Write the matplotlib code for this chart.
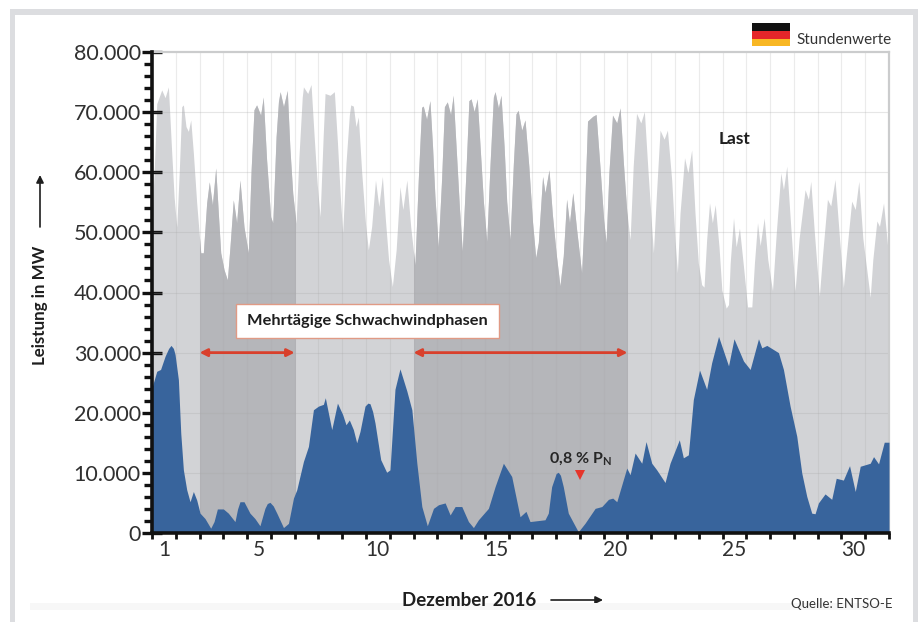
import matplotlib
matplotlib.use('Agg')
import matplotlib.pyplot as plt
from matplotlib.patches import Rectangle, FancyArrowPatch
from matplotlib.ticker import FixedLocator, FuncFormatter, NullFormatter

plt.rcParams['font.family'] = ['Lato', 'DejaVu Sans']
plt.rcParams['mathtext.default'] = 'regular'

# December 2016, x in days since start of the month, y in MW
load_days = [0, 0.1, 0.2, 0.41, 0.55, 0.69, 0.83, 0.93, 1.04, 1.15, 1.25, 1.32, 1.43, 1.53, 1.63, 1.74, 1.88,
             2.05, 2.16, 2.3, 2.41, 2.54, 2.68, 2.79, 2.89, 3.03, 3.17, 3.28, 3.42, 3.56, 3.7, 3.87,
             4.05, 4.17, 4.29, 4.4, 4.57, 4.68, 4.82, 4.99, 5.08, 5.22, 5.32, 5.39, 5.53, 5.69, 5.8, 5.92,
             6.06, 6.18, 6.32, 6.37, 6.55, 6.69, 6.82, 6.95, 7.07, 7.2, 7.28, 7.49, 7.67, 7.8, 7.92,
             8.02, 8.16, 8.3, 8.36, 8.47, 8.58, 8.68, 8.82, 8.98, 9.1, 9.24, 9.4, 9.54, 9.69, 9.82, 9.95,
             10.11, 10.27, 10.43, 10.55, 10.72, 10.88, 11.06, 11.2, 11.34, 11.41, 11.55, 11.69, 11.8, 11.9,
             12.04, 12.18, 12.3, 12.42, 12.56, 12.67, 12.79, 12.93, 13.05, 13.19, 13.33, 13.42, 13.55, 13.68, 13.8, 13.94,
             14.08, 14.22, 14.36, 14.43, 14.57, 14.68, 14.81, 14.92, 15.06, 15.2, 15.31, 15.4, 15.55, 15.69, 15.85, 16.0,
             16.14, 16.25, 16.43, 16.53, 16.7, 16.84, 17.0, 17.16, 17.3, 17.44, 17.56, 17.7, 17.86,
             18.07, 18.2, 18.32, 18.54, 18.68, 18.85, 19.0, 19.1, 19.22, 19.37, 19.55, 19.69, 19.82, 19.97,
             20.11, 20.24, 20.38, 20.56, 20.71, 20.85, 21.09, 21.22, 21.37, 21.54, 21.68, 21.86, 22.0,
             22.1, 22.21, 22.4, 22.54, 22.7, 22.84, 22.98, 23.12, 23.22, 23.33, 23.45, 23.57, 23.69, 23.85, 23.97,
             24.15, 24.25, 24.32, 24.46, 24.57, 24.71, 24.88, 25.05, 25.23, 25.34, 25.47, 25.58, 25.75, 25.9,
             26.1, 26.26, 26.45, 26.56, 26.7, 26.85, 27.05, 27.22, 27.47, 27.61, 27.71, 27.86,
             28.07, 28.2, 28.41, 28.55, 28.73, 28.9, 29.08, 29.2, 29.43, 29.58, 29.73, 29.9,
             30.21, 30.32, 30.49, 30.6, 30.77, 30.98, 31]
load_mw = [52100, 61000, 71400, 73700, 72400, 74200, 63200, 55900, 50900, 60400, 70900, 71200, 67600, 66800, 68700, 63200, 54900,
           46600, 46600, 54900, 58400, 54600, 60700, 53200, 46600, 43800, 42100, 47600, 55400, 51600, 58700, 50900,
           46600, 60400, 70400, 71200, 69500, 72500, 62100, 52600, 51600, 65900, 71800, 73400, 70900, 73600, 64000, 56500,
           51500, 62500, 72500, 74200, 73100, 74600, 66000, 58000, 52600, 66000, 73100, 72800, 73400, 65000, 56000,
           49900, 61500, 69500, 71200, 71000, 67600, 69200, 60000, 51500, 47100, 51000, 58700, 54300, 59300, 52000, 45500,
           41000, 47100, 57600, 53800, 58700, 51000, 44600, 58700, 70800, 71000, 68800, 71900, 64300, 56000,
           47600, 58700, 70900, 71700, 69600, 72800, 64300, 54200, 46900, 58700, 71900, 72200, 70100, 72200, 64300, 55100,
           48500, 61400, 72500, 73400, 70700, 72800, 64300, 55100, 48800, 61400, 69700, 70300, 67000, 68700, 61000, 52000,
           45800, 48300, 59300, 56600, 60400, 53000, 46500, 41100, 46100, 55500, 51600, 56600, 50500,
           43300, 54500, 68500, 69300, 69600, 60500, 52000, 48300, 60000, 69500, 68200, 70700, 62000, 53500,
           48800, 61000, 69800, 68200, 70100, 61000, 46600, 56500, 67000, 65500, 67000, 58700, 48800,
           43300, 53200, 62400, 59900, 63700, 53200, 44900, 41300, 40900, 48800, 54900, 51600, 54600, 47600, 40400,
           37400, 38000, 44900, 52400, 47600, 50700, 44300, 37600, 37600, 44900, 51600, 47800, 52400, 45500,
           40300, 50000, 59900, 57100, 61000, 52000, 40300, 49000, 57100, 55500, 58500, 50000,
           39400, 46000, 55500, 54400, 58800, 50000, 40800, 46000, 55200, 53800, 58500, 49000,
           39200, 45500, 51900, 51000, 54900, 46100, 45500]

wind_days = [0, 0.2, 0.36, 0.55, 0.7, 0.8, 0.9, 0.97, 1.11, 1.21, 1.32, 1.46, 1.6, 1.74, 1.88, 2.02, 2.23, 2.47, 2.61, 2.75,
             3.0, 3.21, 3.49, 3.6, 3.7, 3.87, 4.12, 4.33, 4.54, 4.75, 4.85, 4.96, 5.1, 5.25, 5.53, 5.74, 5.95, 6.09, 6.37, 6.58, 6.79,
             7.0, 7.21, 7.29, 7.56, 7.8, 8.02, 8.16, 8.3, 8.47, 8.61, 8.75, 8.96, 9.08, 9.17, 9.28, 9.38, 9.62, 9.87, 10.01,
             10.22, 10.43, 10.72, 10.93, 11.14, 11.35, 11.58, 11.84, 12.05, 12.33, 12.54, 12.75, 13.03, 13.31, 13.52,
             13.73, 14.15, 14.43, 14.78, 15.13, 15.48, 15.73, 15.9, 16.53, 16.67, 16.81, 17.0, 17.09, 17.18, 17.3, 17.51, 17.93,
             18.21, 18.64, 18.92, 19.2, 19.38, 19.55, 19.97, 20.11, 20.32, 20.6, 20.78, 21.02, 21.23, 21.58, 21.79,
             22.18, 22.35, 22.56, 22.77, 23.03, 23.33, 23.54, 23.83, 24.25, 24.48, 24.88, 25.16, 25.51, 25.65, 25.86,
             26.35, 26.56, 26.84, 27.12, 27.33, 27.54, 27.75, 27.89, 28.03, 28.31, 28.59, 28.78, 29.08, 29.34, 29.58,
             29.79, 30.21, 30.35, 30.56, 30.8, 30.98, 31]
wind_mw = [24200, 26900, 27200, 29400, 30700, 31200, 30700, 29700, 25500, 16600, 10500, 7200, 5200, 6900, 5500, 3300, 2400, 800, 1900, 4000,
           4000, 3300, 1900, 4000, 5200, 5200, 3300, 2400, 1200, 4100, 4900, 5100, 4500, 3300, 900, 1600, 5800, 7200, 11900, 14400, 20500,
           21100, 21400, 22500, 17200, 21600, 19700, 18000, 18800, 17200, 15000, 16900, 21100, 21600, 21500, 20200, 18300, 12200, 10100, 10500,
           23900, 27300, 23600, 20500, 11600, 4400, 1200, 4100, 4700, 5000, 3000, 4400, 4400, 1900, 900,
           2200, 4100, 7700, 11600, 9400, 2700, 3600, 1900, 2200, 3300, 7700, 9900, 10100, 9600, 7700, 3300, 200,
           1600, 4100, 4400, 5600, 5800, 5200, 10800, 9700, 13300, 11600, 15200, 11600, 10500, 8400, 11600,
           15500, 12500, 13000, 22200, 27100, 23900, 28300, 32700, 27800, 32300, 28600, 27200, 32300, 30800, 31200,
           30000, 27200, 21100, 16100, 10000, 6100, 3300, 3200, 5000, 6500, 5600, 9100, 8800, 11200, 6900,
           11100, 11600, 12700, 11500, 15100, 15100, 15100]

low_wind_phases = [(2, 6), (11, 20)]
y_major = [0, 10000, 20000, 30000, 40000, 50000, 60000, 70000, 80000]
y_minor = list(range(0, 80001, 2000))
day_labels = [1, 5, 10, 15, 20, 25, 30]
min_wind_day = 18
min_wind_mark = 9600

W, H = 921, 622


def fx(px):
    return px / W


def fy(py):
    return 1 - py / H


def fig_rect(x0, y0, x1, y1, **kw):
    # rectangle given in reference pixels
    fig.patches.append(Rectangle((fx(x0), fy(y1)), (x1 - x0) / W, (y1 - y0) / H,
                                 transform=fig.transFigure, **kw))


fig = plt.figure(figsize=(W / 100, H / 100), dpi=100, facecolor='white')
frame = '#dcdde0'
fig_rect(10, 9.5, 918, 14.5, color=frame, lw=0)
fig_rect(10, 9.5, 15, 622, color=frame, lw=0)
fig_rect(913, 9.5, 918, 622, color=frame, lw=0)
fig_rect(30, 603, 890, 610, color='#f7f7f7', lw=0)

ax = fig.add_axes([fx(152), fy(533), 737 / W, (533 - 52) / H])
ax.set_xlim(0, 31)
ax.set_ylim(0, 80000)

ax.fill_between(load_days, load_mw, color='#d2d3d6', lw=0, zorder=1)
for start, end in low_wind_phases:
    dark = ax.fill_between(load_days, load_mw, color='#b5b6ba', lw=0, zorder=1.5)
    dark.set_clip_path(Rectangle((start, 0), end - start, 80000, transform=ax.transData))

for d in range(1, 31):
    ax.axvline(d, color='#a8a8a8', lw=0.8, alpha=0.22, zorder=2)
for v in y_major[1:-1]:
    ax.axhline(v, color='#a8a8a8', lw=0.8, alpha=0.28, zorder=2)

ax.fill_between(wind_days, wind_mw, color='#38649c', lw=0, zorder=3)

for side in ['left', 'bottom']:
    ax.spines[side].set_linewidth(2.6)
    ax.spines[side].set_color('#111111')
    ax.spines[side].set_zorder(6)
for side in ['top', 'right']:
    ax.spines[side].set_linewidth(1.6)
    ax.spines[side].set_color('#cbcccd')

ax.yaxis.set_major_locator(FixedLocator(y_major))
ax.yaxis.set_minor_locator(FixedLocator(y_minor))
ax.yaxis.set_major_formatter(FuncFormatter(lambda v, p: '{:,.0f}'.format(v).replace(',', '.')))
ax.tick_params(axis='y', which='major', direction='inout', length=14, width=2.4, color='#111111',
               labelsize=15.5, labelcolor='#303030', pad=1)
ax.tick_params(axis='y', which='minor', direction='out', length=5.5, width=2.4, color='#111111')

ax.xaxis.set_major_locator(FixedLocator(list(range(0, 32))))
ax.xaxis.set_major_formatter(NullFormatter())
ax.xaxis.set_minor_locator(FixedLocator([d - 0.5 for d in day_labels]))
ax.xaxis.set_minor_formatter(FuncFormatter(lambda v, p: str(int(v + 0.5))))
ax.tick_params(axis='x', which='major', direction='out', length=4, width=2, color='#111111')
ax.tick_params(axis='x', which='minor', length=0, labelsize=15, labelcolor='#303030', pad=5)

red = '#d9402c'
for start, end in low_wind_phases:
    ax.annotate('', xy=(start, 30000), xytext=(end, 30000), zorder=5,
                arrowprops=dict(arrowstyle='<|-|>', color=red, lw=2, mutation_scale=11, shrinkA=0, shrinkB=0))

ax.plot([min_wind_day], [min_wind_mark], marker='v', color='#e5352b', ms=7, mew=0, zorder=5)
ax.text(min_wind_day, 12300, '0,8 % P$_{N}$', ha='center', va='center', fontsize=11.5,
        fontweight='bold', color='#262626', zorder=5)

fig_rect(236, 304, 499, 338, fc='white', ec='#e09a85', lw=1, zorder=9)
fig.text(fx(367), fy(321), 'Mehrtägige Schwachwindphasen', ha='center', va='center', fontsize=11.8,
         fontweight='bold', color='#1e1e1e', zorder=10)
fig.text(fx(735), fy(139), 'Last', ha='center', va='center', fontsize=12.5, fontweight='bold', color='#1e1e1e')

# flag
fig_rect(752, 23, 790, 31, color='#111111', lw=0, zorder=9)
fig_rect(752, 31, 790, 39, color='#e5262a', lw=0, zorder=9)
fig_rect(752, 39, 790, 46, color='#f8b724', lw=0, zorder=9)
fig.text(fx(892), fy(40), 'Stundenwerte', ha='right', va='center', fontsize=11, color='#333333')

fig.text(fx(40), fy(305), 'Leistung in MW', rotation=90, ha='center', va='center', fontsize=12.2,
         fontweight='bold', color='#1e1e1e')
fig.text(fx(469), fy(600), 'Dezember 2016', ha='center', va='center', fontsize=13.5, fontweight='bold',
         color='#1e1e1e')
fig.text(fx(892), fy(604), 'Quelle: ENTSO-E', ha='right', va='center', fontsize=9.5, color='#333333')

arrow = dict(arrowstyle='-|>', color='#1e1e1e', lw=1.2, mutation_scale=11, shrinkA=0, shrinkB=0)
fig.add_artist(FancyArrowPatch((fx(40), fy(227)), (fx(40), fy(175)), transform=fig.transFigure, **arrow))
fig.add_artist(FancyArrowPatch((fx(551), fy(600)), (fx(603), fy(600)), transform=fig.transFigure, **arrow))

fig.savefig('out.png', dpi=100)
